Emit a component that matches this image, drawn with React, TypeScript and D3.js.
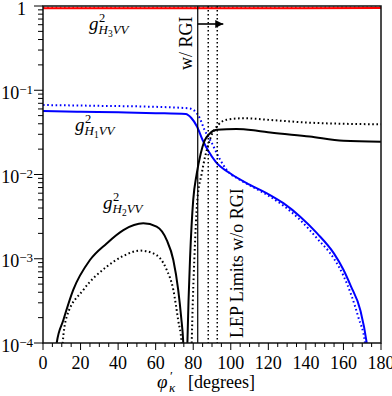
import React from "react";
import * as d3 from "d3";

// phi'_kappa in degrees, coupling squared values
const blueSolid: [number, number][] = [
  [0, 0.0568], [20, 0.0556], [40, 0.0547], [60, 0.0535], [76, 0.0522],
  [79, 0.0468], [82, 0.0372], [85, 0.0257], [88, 0.0191], [92, 0.0141],
  [100, 0.0102], [110, 0.00759], [119, 0.00603], [128, 0.00457],
  [137, 0.00316], [146, 0.002], [155, 0.00115], [160, 0.00074],
  [164, 0.00047], [169, 0.000245], [172.4, 0.0001], [174, 0.00005],
];
const blueDotted: [number, number][] = [
  [0, 0.0668], [30, 0.0653], [57, 0.0638], [78, 0.061], [83, 0.049],
  [86, 0.0339], [90, 0.0234], [93.5, 0.0162], [98, 0.0112], [105, 0.00861],
  [112, 0.00708], [120, 0.00562], [128, 0.00427], [137, 0.00288],
  [146, 0.00174], [155, 0.001], [160, 0.00063], [164, 0.00038],
  [168, 0.0002], [171.5, 0.0001], [173, 0.00005],
];
const blackSolidLow: [number, number][] = [
  [6.5, 0.00006], [7.3, 0.0001], [10.8, 0.000186], [16.1, 0.000427],
  [25, 0.000966], [33.9, 0.00152], [42.8, 0.00219], [53.4, 0.00263],
  [60.5, 0.0024], [65.9, 0.00166], [69.4, 0.000966], [72, 0.000427],
  [73.6, 0.0002], [74.7, 0.0001], [75.2, 0.00005],
];
const blackSolidHigh: [number, number][] = [
  [76.6, 0.00005], [76.9, 0.0001], [77.5, 0.00032], [78.3, 0.001],
  [80, 0.005], [81.8, 0.01], [84, 0.0178], [86, 0.0251],
  [88.5, 0.0302], [92.5, 0.0339], [103, 0.0347], [114, 0.0331],
  [121, 0.0316], [142, 0.0282], [160, 0.0251], [180, 0.0245],
];
const blackDottedLow: [number, number][] = [
  [10, 0.00007], [10.5, 0.0001], [12.6, 0.000204], [21.5, 0.000427],
  [33.9, 0.000805], [42.8, 0.00108], [51.6, 0.00125], [58.7, 0.00116],
  [65.9, 0.000736], [69.4, 0.000427], [72, 0.000186], [73.8, 0.0001],
  [74.2, 0.00007],
];
const blackDottedHigh: [number, number][] = [
  [78.9, 0.00005], [79.2, 0.0001], [79.8, 0.00032], [80.6, 0.001],
  [82.2, 0.005], [84.5, 0.0102], [86.3, 0.0162], [88, 0.0224],
  [89.8, 0.0295], [93.4, 0.0389], [97.8, 0.0447], [106.7, 0.0465],
  [121, 0.0444], [142, 0.0412], [180, 0.0394],
];
const redSolid: [number, number][] = [[0, 0.94], [90, 0.94], [180, 0.945]];
const redDotted: [number, number][] = [[0, 0.955], [90, 0.955], [180, 0.958]];

const xTicks = [0, 20, 40, 60, 80, 100, 120, 140, 160, 180];
const yTicks = [
  { v: 1, exp: "" },
  { v: 0.1, exp: "−1" },
  { v: 0.01, exp: "−2" },
  { v: 0.001, exp: "−3" },
  { v: 0.0001, exp: "−4" },
];
const rgiLine = 82.4;
const lepLines = [88, 92.8];
const arrowEnd = 96;

const W = 392, H = 396;
const L = 43, R = 381, T = 6, B = 343;
const serif = { fontFamily: "Liberation Serif, Times New Roman, DejaVu Serif, serif" };

function GLabel({ x, y, n }: { x: number; y: number; n: string }) {
  return (
    <g style={serif} fill="#000">
      <text x={x} y={y} fontSize={19} fontStyle="italic">g</text>
      <text x={x + 10} y={y - 8} fontSize={12.5}>2</text>
      <text x={x + 9.5} y={y + 4} fontSize={13} fontStyle="italic">
        H
        <tspan fontSize={9.5} dy={2.5} fontStyle="normal">{n}</tspan>
        <tspan dy={-2.5}>VV</tspan>
      </text>
    </g>
  );
}

export default function App() {
  const x = d3.scaleLinear().domain([0, 180]).range([L, R]);
  const y = d3.scaleLog().domain([1e-4, 1]).range([B, T]);
  const line = d3
    .line<[number, number]>()
    .x((d) => x(d[0]))
    .y((d) => y(d[1]))
    .curve(d3.curveMonotoneX);

  const minorX = d3.range(0, 181, 5).filter((v) => v % 20 !== 0);
  const minorY: number[] = [];
  for (let e = -4; e < 0; e++) {
    for (let m = 2; m <= 9; m++) minorY.push(m * Math.pow(10, e));
  }

  const dot = "1.6 2.6";

  return (
    <svg
      width={W}
      height={H}
      style={{ position: "absolute", left: 0, top: 0, background: "#fff" }}
    >
      <defs>
        <clipPath id="plot">
          <rect x={L} y={T} width={R - L} height={B - T} />
        </clipPath>
        <marker id="head" viewBox="0 0 10 10" refX={10} refY={5} markerWidth={13} markerHeight={8} orient="auto" markerUnits="userSpaceOnUse">
          <path d="M0,0 L10,5 L0,10 Z" fill="#000" />
        </marker>
      </defs>

      <g clipPath="url(#plot)" fill="none" strokeWidth={2}>
        <path d={line(redDotted)!} stroke="#ff0000" strokeDasharray={dot} />
        <path d={line(redSolid)!} stroke="#ff0000" />
        <path d={line(blueDotted)!} stroke="#0000ff" strokeDasharray={dot} />
        <path d={line(blueSolid)!} stroke="#0000ff" />
        <path d={line(blackDottedLow)!} stroke="#000" strokeDasharray={dot} />
        <path d={line(blackDottedHigh)!} stroke="#000" strokeDasharray={dot} />
        <path d={line(blackSolidLow)!} stroke="#000" />
        <path d={line(blackSolidHigh)!} stroke="#000" />
        <line x1={x(rgiLine)} x2={x(rgiLine)} y1={T} y2={B} stroke="#000" strokeWidth={1.2} />
        {lepLines.map((v) => (
          <line key={v} x1={x(v)} x2={x(v)} y1={T} y2={B} stroke="#000" strokeWidth={1.5} strokeDasharray="1.5 2.5" />
        ))}
        <line x1={x(rgiLine)} x2={x(arrowEnd)} y1={24} y2={24} stroke="#000" strokeWidth={1.6} markerEnd="url(#head)" />
      </g>

      <rect x={L} y={T} width={R - L} height={B - T} fill="none" stroke="#111" strokeWidth={1.5} />

      <g stroke="#000" strokeWidth={1}>
        {xTicks.map((v) => (
          <line key={v} x1={x(v)} x2={x(v)} y1={B} y2={B + 7} />
        ))}
        {minorX.map((v) => (
          <line key={v} x1={x(v)} x2={x(v)} y1={B} y2={B + 4} />
        ))}
        {yTicks.map((t) => (
          <line key={t.v} x1={L - 9} x2={L} y1={y(t.v)} y2={y(t.v)} />
        ))}
        {minorY.map((v) => (
          <line key={v} x1={L - 5} x2={L} y1={y(v)} y2={y(v)} />
        ))}
      </g>

      <g style={serif} fontSize={18} fill="#000">
        {xTicks.map((v) => (
          <text key={v} x={x(v)} y={369} textAnchor="middle">{v}</text>
        ))}
        {yTicks.map((t) =>
          t.exp === "" ? (
            <text key={t.v} x={26} y={y(t.v) + 9} textAnchor="end">1</text>
          ) : (
            <text key={t.v} x={33} y={y(t.v) + 8.5} textAnchor="end">
              10<tspan fontSize={13} dy={-5}>{t.exp}</tspan>
            </text>
          )
        )}
        <text x={157} y={388} fontStyle="italic" fontSize={19}>φ</text>
        <text x={170} y={380} fontSize={13}>′</text>
        <text x={169} y={392} fontStyle="italic" fontSize={13}>κ</text>
        <text x={188} y={388}>[degrees]</text>
        <text transform={`translate(192,70) rotate(-90)`}>w/ RGI</text>
        <text transform={`translate(243,338) rotate(-90)`}>LEP Limits w/o RGI</text>
      </g>

      <GLabel x={89} y={30} n="3" />
      <GLabel x={75} y={131} n="1" />
      <GLabel x={103} y={209} n="2" />
    </svg>
  );
}
